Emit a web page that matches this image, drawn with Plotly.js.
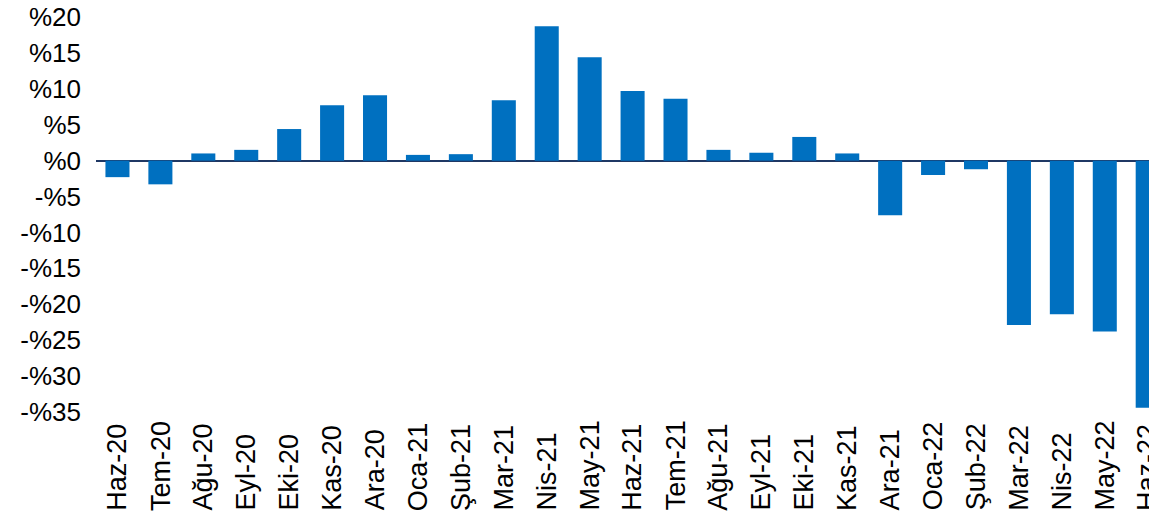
<!DOCTYPE html>
<html>
<head>
<meta charset="utf-8">
<script src="https://cdn.plot.ly/plotly-3.0.1.min.js"></script>
<style>html,body{margin:0;padding:0;background:#fff;}#chart{width:1149px;height:512px;}</style>
</head>
<body>
<div id="chart"></div>
<script>
const categories = ["Haz-20","Tem-20","Ağu-20","Eyl-20","Eki-20","Kas-20","Ara-20","Oca-21","Şub-21","Mar-21","Nis-21","May-21","Haz-21","Tem-21","Ağu-21","Eyl-21","Eki-21","Kas-21","Ara-21","Oca-22","Şub-22","Mar-22","Nis-22","May-22","Haz-22"];
const values = [-2.3,-3.3,1.0,1.5,4.4,7.7,9.1,0.8,0.9,8.4,18.7,14.4,9.7,8.6,1.5,1.1,3.3,1.0,-7.6,-2.0,-1.2,-22.9,-21.4,-23.8,-34.4];
const yTickVals = [20,15,10,5,0,-5,-10,-15,-20,-25,-30,-35];
const yTickText = ["%20","%15","%10","%5","%0","-%5","-%10","-%15","-%20","-%25","-%30","-%35"];

const font = "Liberation Sans, Arial, sans-serif";
const labelAnnotations = categories.map(c => ({
  x: c, xref: "x", y: -0.255, yref: "paper",
  text: c, textangle: -90, showarrow: false,
  xanchor: "center", yanchor: "bottom",
  font: {family: font, size: 27, color: "#000"}
}));

Plotly.newPlot("chart", [{
  type: "bar", x: categories, y: values,
  marker: {color: "#0070C0", line: {width: 0}},
  hoverinfo: "x+y"
}], {
  width: 1149, height: 512,
  margin: {l: 96, r: 0, t: 17, b: 100},
  paper_bgcolor: "#fff", plot_bgcolor: "#fff",
  bargap: 0.44,
  showlegend: false,
  xaxis: {type: "category", range: [-0.5, 24.03], showticklabels: false, showgrid: false, zeroline: false, showline: false, ticks: ""},
  yaxis: {range: [-35, 20], tickvals: yTickVals, ticktext: yTickText, showgrid: false,
          zeroline: true, zerolinecolor: "#1F3864", zerolinewidth: 2, showline: false, ticks: "",
          ticklabelstandoff: 14,
          tickfont: {family: font, size: 26, color: "#000"}},
  annotations: labelAnnotations
}, {displayModeBar: false, staticPlot: true});
</script>
</body>
</html>
